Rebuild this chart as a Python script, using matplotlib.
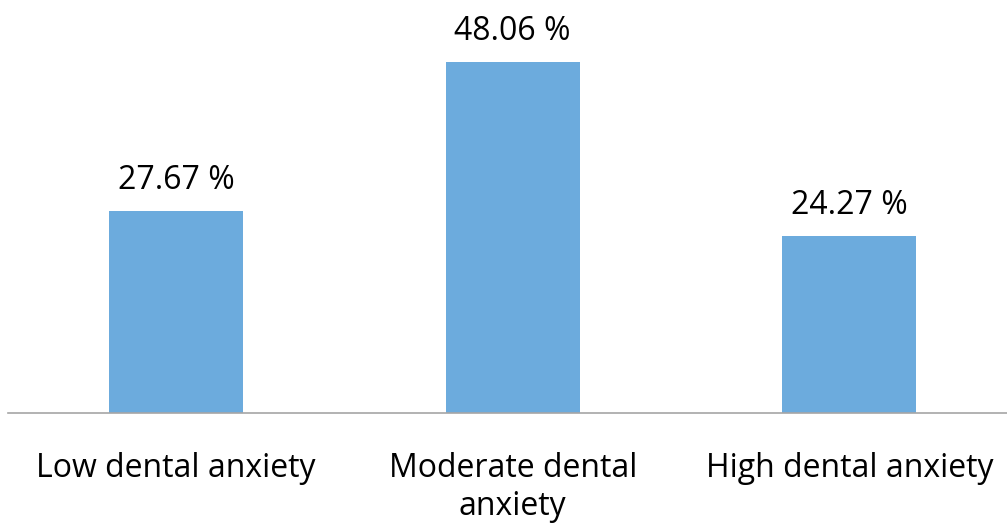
import matplotlib.pyplot as plt

# Dental anxiety distribution
categories = ['Low dental anxiety', 'Moderate dental\nanxiety', 'High dental anxiety']
values = [27.67, 48.06, 24.27]
labels = ['27.67 %', '48.06 %', '24.27 %']

plt.rcParams['font.family'] = ['Open Sans', 'DejaVu Sans']

fig = plt.figure(figsize=(10.07, 5.23), dpi=100)
ax = fig.add_axes([8 / 1007, 110 / 523, 999 / 1007, 413 / 523])

x = range(len(categories))
ax.bar(x, values, width=0.398, color='#6cabdd', zorder=2)
ax.set_xlim(-0.499, 2.468)
ax.set_ylim(0, 56.6)

for xi, v, lab in zip(x, values, labels):
    ax.annotate(lab, (xi, v), xytext=(0, 10), textcoords='offset points',
                ha='center', va='bottom', fontsize=23, color='black')

ax.set_xticks(list(x))
ax.set_xticklabels(categories, fontsize=23, linespacing=1.22, va='top')
ax.tick_params(axis='x', length=0, pad=28)
ax.set_yticks([])
for s in ['top', 'right', 'left']:
    ax.spines[s].set_visible(False)
ax.spines['bottom'].set_color('#a6a6a6')
ax.spines['bottom'].set_linewidth(1.2)

fig.savefig('out.png', dpi=100)
